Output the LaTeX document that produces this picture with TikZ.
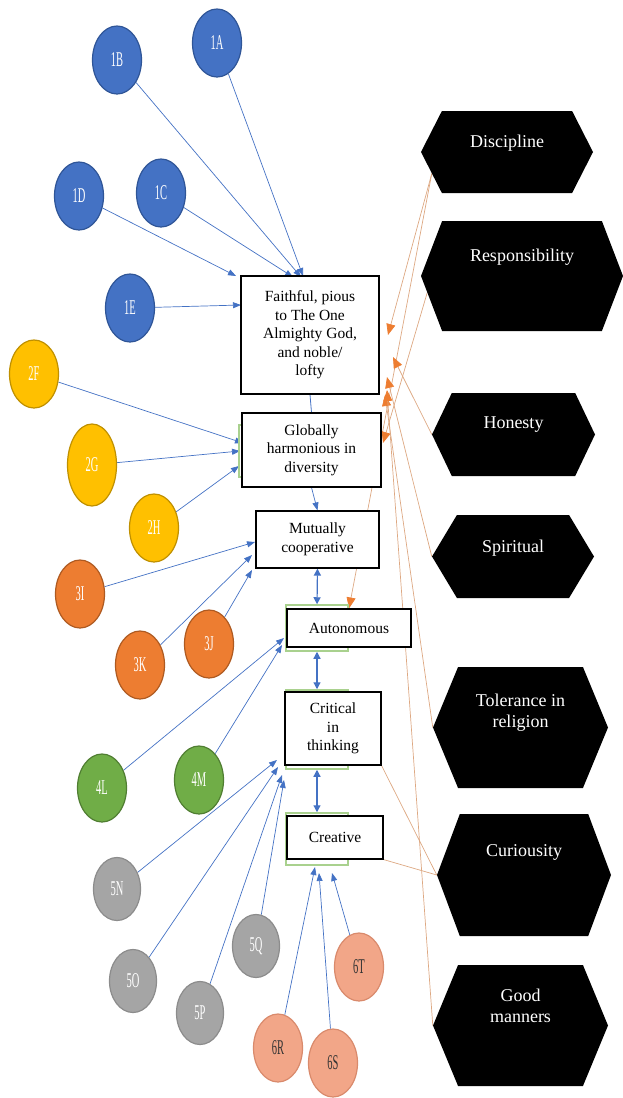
\documentclass[tikz,border=0pt]{standalone}
\usepackage{fontspec}
\setmainfont{Liberation Serif}
\usetikzlibrary{shapes.geometric,shapes.symbols,arrows.meta,backgrounds}

\definecolor{ballblue}{HTML}{4472C4}
\definecolor{ballblueline}{HTML}{2F5597}
\definecolor{ballyellow}{HTML}{FFC000}
\definecolor{ballyellowline}{HTML}{BF9000}
\definecolor{ballorange}{HTML}{ED7D31}
\definecolor{ballorangeline}{HTML}{AE5A21}
\definecolor{ballgreen}{HTML}{70AD47}
\definecolor{ballgreenline}{HTML}{507E32}
\definecolor{ballgray}{HTML}{A5A5A5}
\definecolor{ballgrayline}{HTML}{8C8C8C}
\definecolor{ballsalmon}{HTML}{F2A688}
\definecolor{ballsalmonline}{HTML}{D98A6C}
\definecolor{arrowblue}{HTML}{4472C4}
\definecolor{tipsorange}{HTML}{ED7D31}
\definecolor{tancol}{HTML}{DDA882}
\definecolor{shadowgreen}{HTML}{A9D18E}

\newcommand{\balltext}[1]{\scalebox{0.5}[1]{\fontsize{21}{21}\selectfont #1}}
\newcommand{\boxfont}{\fontsize{15.5}{18.5}\selectfont}
\newcommand{\traitfont}{\fontsize{18}{21}\selectfont}

\tikzset{
  ball/.style={ellipse, inner sep=0pt, line width=1.2pt, minimum width=49pt, minimum height=68pt},
  blueball/.style={ball, fill=ballblue, draw=ballblueline, text=white},
  yellowball/.style={ball, fill=ballyellow, draw=ballyellowline, text=white},
  orangeball/.style={ball, fill=ballorange, draw=ballorangeline, text=white},
  greenball/.style={ball, fill=ballgreen, draw=ballgreenline, text=white},
  grayball/.style={ball, fill=ballgray, draw=ballgrayline, text=white, minimum width=47pt, minimum height=63pt},
  salmonball/.style={ball, fill=ballsalmon, draw=ballsalmonline, text=black!80},
  valuebox/.style={draw=black, line width=1.1pt, fill=white, align=center, inner sep=2pt, font=\boxfont},
  shadowbox/.style={draw=shadowgreen, line width=1.5pt, fill=white, minimum width=62pt},
  trait/.style={signal, signal to=east and west, fill=black, inner sep=0pt},
  traittext/.style={text=white, align=center, font=\traitfont},
  bluearr/.style={draw=arrowblue, line width=0.7pt, -{Triangle[length=8pt,width=6pt]}},
  blueline/.style={draw=arrowblue, line width=0.8pt},
  dblarr/.style={draw=arrowblue, line width=1.2pt, {Triangle[length=7pt,width=7pt]}-{Triangle[length=7pt,width=7pt]}},
  valarr/.style={draw=tancol, line width=0.7pt, -{Triangle[length=11pt,width=9pt,color=tipsorange]}},
  valline/.style={draw=tancol, line width=0.7pt}
}

\begin{document}
\begin{tikzpicture}[x=1pt, y=-1pt]
\useasboundingbox (0,0) rectangle (623,1098);

% sub-indicator circles
\foreach \n/\x/\y/\s in {1A/217/43/blueball, 1B/117/60/blueball, 1C/161/193/blueball,
    1D/79/196/blueball, 1E/130/308/blueball, 2F/34/374/yellowball, 2H/154/528/yellowball,
    3I/80/594/orangeball, 3J/209/644/orangeball, 3K/140/665/orangeball,
    4L/102/788/greenball, 4M/199/780/greenball,
    5N/117/889/grayball, 5O/133/981/grayball, 5P/200/1013/grayball, 5Q/256/946/grayball,
    6R/278/1048/salmonball, 6S/333/1063/salmonball, 6T/359/967/salmonball}
  \node[\s] (c\n) at (\x,\y) {\balltext{\n}};
\node[yellowball, minimum height=82pt] (c2G) at (92,465) {\balltext{2G}};

% green shapes under the boxes
\node[shadowbox, minimum height=52pt] (g2) at (270,451) {};
\node[shadowbox, minimum height=46pt] (g4) at (317,628) {};
\node[shadowbox, minimum height=79pt] (g5) at (317,729.5) {};
\node[shadowbox, minimum height=52pt] (g6) at (317,839) {};

% dimensions
\node[valuebox, minimum width=138pt, minimum height=118pt] (faith) at (310,335)
  {Faithful, pious\\to The One\\Almighty God,\\and noble/\\lofty};
\node[valuebox, minimum width=139pt, minimum height=74pt] (glob) at (311.5,450)
  {Globally\\harmonious in\\diversity};
\node[valuebox, minimum width=123pt, minimum height=57pt] (mutual) at (317.5,539.5)
  {Mutually\\cooperative};
\node[valuebox, minimum width=124pt, minimum height=38pt] (auto) at (349,628) {Autonomous};
\node[valuebox, minimum width=96pt, minimum height=73pt] (crit) at (333,728.5)
  {Critical\\in\\thinking};
\node[valuebox, minimum width=96pt, minimum height=43pt] (creat) at (335,837.5) {Creative};

% values
\foreach \n/\x/\y/\w/\h/\a/\ty/\t in {
    disc/507/152/172/82/126/143/Discipline,
    resp/522/276/202/110/138/257/Responsibility,
    hon/513.5/434.5/163/83/129/425/Honesty,
    spir/513/556.5/162/83/118/548/Spiritual,
    tol/520.5/727.5/175/121/135/713/{Tolerance in\\religion},
    cur/524/875/174/122/139/852/Curiousity,
    good/520.5/1025.5/175/121/135/1006/{Good\\manners}}
{
  \node[trait, minimum width=\w pt, minimum height=\h pt, signal pointer angle=\a] (\n) at (\x,\y) {};
  \node[traittext] (\n-t) at (\x,\ty) {\t};
}

\begin{scope}[on background layer]
% circles to dimensions
\foreach \n/\x/\y in {1A/303/276, 1B/301/277, 1C/293/277, 1D/236/276, 1E/241/305,
    2F/243/443, 2G/240/451, 2H/239/466, 3I/255/542, 3K/252/555, 3J/252/570,
    4L/284/638, 4M/282/645, 5N/277/760, 5O/278/767, 5P/282/775, 5Q/284/780,
    6R/315/867, 6S/319/873, 6T/332/873}
{
  \coordinate (in\n) at (\x,\y);
  \draw[bluearr] (c\n) -- (in\n);
}
\draw[blueline] (faith.south) -- (glob.north);
\draw[bluearr] (glob.south) -- (mutual.north);
\draw[dblarr] (mutual.south) -- (g4.north);
\draw[dblarr] (g4.south) -- (g5.north);
\draw[dblarr] (g5.south) -- (g6.north);

% values to dimensions
\coordinate (o1) at (388,335);
\coordinate (o2) at (393,357);
\coordinate (o3) at (387,377);
\coordinate (o4) at (385,395);
\coordinate (o5) at (387,390);
\coordinate (o6) at (383,443);
\draw[valarr] (disc.196) -- (o1);
\draw[valarr] (disc.196) -- (auto.north);
\draw[valarr] (resp.190) -- (o6);
\draw[valarr] (hon.west) -- (o2);
\draw[valarr] (spir.west) -- (o3);
\draw[valarr] (tol.west) -- (o4);
\draw[valarr] (good.west) -- (o5);
\draw[valline] (crit.south east) -- (cur.west);
\draw[valline] (creat.south east) -- (cur.west);
\end{scope}
\end{tikzpicture}
\end{document}
